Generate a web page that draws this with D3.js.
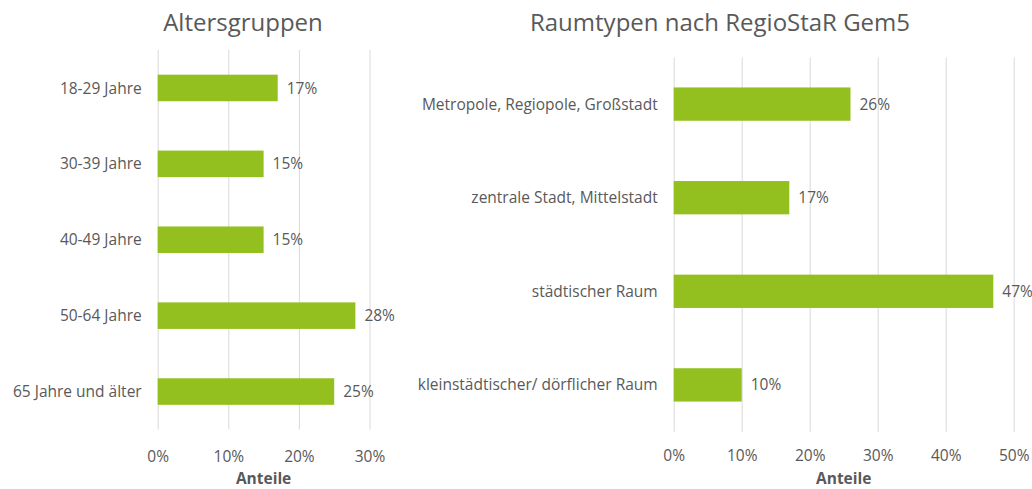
<!DOCTYPE html>
<html>
<head>
<meta charset="utf-8">
<script src="https://cdn.jsdelivr.net/npm/d3@7"></script>
<style>
  html, body { margin: 0; padding: 0; background: #fff; }
  svg { display: block; font-family: "Open Sans", "Noto Sans", sans-serif; }
</style>
</head>
<body>
<svg id="chart" width="1032" height="489"></svg>
<script>
// ---- Data ----
const ageCategories = ["18-29 Jahre", "30-39 Jahre", "40-49 Jahre", "50-64 Jahre", "65 Jahre und älter"];
const ageValues = [0.17, 0.15, 0.15, 0.28, 0.25];
const ageTicks = [0, 0.1, 0.2, 0.3];

const regionCategories = ["Metropole, Regiopole, Großstadt", "zentrale Stadt, Mittelstadt", "städtischer Raum", "kleinstädtischer/ dörflicher Raum"];
const regionValues = [0.26, 0.17, 0.47, 0.10];
const regionTicks = [0, 0.1, 0.2, 0.3, 0.4, 0.5];

const titles = ["Altersgruppen", "Raumtypen nach RegioStaR Gem5"];
const axisTitle = "Anteile";

// ---- Styling ----
const textColor = "#595959";
const gridColor = "#d9d9d9";
const barColor = "#93c01f";
const fs = 15.5;
const pct = d3.format(".0%");

const svg = d3.select("#chart");

function panel(cfg) {
  const g = svg.append("g");
  const x = d3.scaleLinear().domain(cfg.domain).range([cfg.x0, cfg.x1]);
  const y = d3.scaleBand().domain(cfg.categories).range([cfg.y0, cfg.y1])
    .paddingInner(cfg.pad).paddingOuter(cfg.pad / 2);

  // gridlines + tick labels
  const ax = g.append("g")
    .attr("transform", `translate(0,${cfg.y1})`)
    .call(d3.axisBottom(x).tickValues(cfg.ticks).tickFormat(pct)
      .tickSize(-(cfg.y1 - cfg.y0)).tickPadding(0));
  ax.select(".domain").remove();
  ax.selectAll(".tick line").attr("stroke", gridColor).attr("stroke-width", 1);
  ax.selectAll(".tick text")
    .attr("fill", textColor).attr("font-size", fs)
    .attr("font-family", "'Open Sans', sans-serif")
    .attr("dy", null).attr("y", 461.5 - cfg.y1);

  // bars
  g.selectAll("rect.bar").data(cfg.values).enter().append("rect")
    .attr("class", "bar")
    .attr("x", x(0))
    .attr("y", (d, i) => y(cfg.categories[i]))
    .attr("width", d => x(d) - x(0))
    .attr("height", y.bandwidth())
    .attr("fill", barColor);

  // value labels
  g.selectAll("text.val").data(cfg.values).enter().append("text")
    .attr("class", "val")
    .attr("x", d => x(d) + 9)
    .attr("y", (d, i) => y(cfg.categories[i]) + y.bandwidth() / 2)
    .attr("dy", "0.36em")
    .attr("fill", textColor).attr("font-size", fs)
    .text(d => pct(d));

  // category labels
  g.selectAll("text.cat").data(cfg.categories).enter().append("text")
    .attr("class", "cat")
    .attr("x", x(0) - 16)
    .attr("y", d => y(d) + y.bandwidth() / 2)
    .attr("dy", "0.36em")
    .attr("text-anchor", "end")
    .attr("fill", textColor).attr("font-size", fs)
    .text(d => d);

  // axis title
  g.append("text")
    .attr("x", (cfg.x0 + cfg.x1) / 2).attr("y", 484)
    .attr("text-anchor", "middle")
    .attr("fill", textColor).attr("font-size", fs).attr("font-weight", "bold")
    .text(axisTitle);

  // chart title
  g.append("text")
    .attr("x", cfg.titleX).attr("y", 30.7)
    .attr("text-anchor", "middle")
    .attr("fill", textColor).attr("font-size", 24)
    .text(cfg.title);
}

panel({
  categories: ageCategories, values: ageValues, ticks: ageTicks,
  domain: [0, 0.3], x0: 157.7, x1: 369.5, y0: 50, y1: 429.5, pad: 0.65,
  title: titles[0], titleX: 243
});

panel({
  categories: regionCategories, values: regionValues, ticks: regionTicks,
  domain: [0, 0.5], x0: 673.7, x1: 1013.7, y0: 57.3, y1: 431.7, pad: 0.644,
  title: titles[1], titleX: 720
});
</script>
</body>
</html>
